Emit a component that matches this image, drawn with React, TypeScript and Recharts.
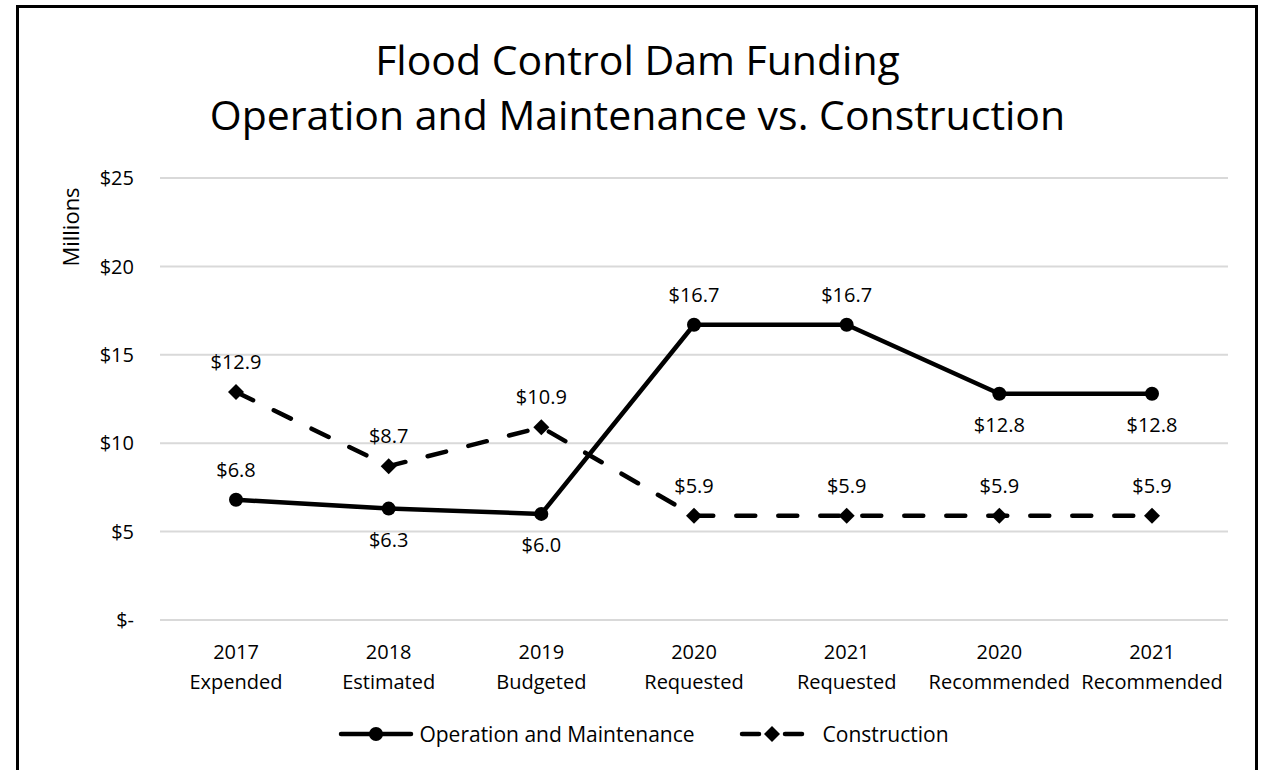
import React from "react";
import { LineChart, Line, XAxis, YAxis, CartesianGrid, LabelList, Legend } from "recharts";

const years = ["2017", "2018", "2019", "2020", "2021", "2020", "2021"];
const stages = ["Expended", "Estimated", "Budgeted", "Requested", "Requested", "Recommended", "Recommended"];
const operationMaintenance = [6.8, 6.3, 6.0, 16.7, 16.7, 12.8, 12.8];
const construction = [12.9, 8.7, 10.9, 5.9, 5.9, 5.9, 5.9];
// where each O&M data label sits relative to its point
const omLabelSide = ["above", "below", "below", "above", "above", "below", "below"];
const yTicks = [0, 5, 10, 15, 20, 25];

const FONT = "'Open Sans', 'Noto Sans', sans-serif";
const FS = 20;

const data = years.map((y, i) => ({
  key: i,
  year: y,
  stage: stages[i],
  om: operationMaintenance[i],
  con: construction[i],
}));

const fmt = (v: number) => (v === 0 ? "$-" : `$${v}`);

function CategoryTick(props: any) {
  const { x, y, payload } = props;
  const d = data[payload.value];
  return (
    <g>
      <text x={x} y={y + 31} textAnchor="middle" fontFamily={FONT} fontSize={FS} fill="#000">
        {d.year}
      </text>
      <text x={x} y={y + 61} textAnchor="middle" fontFamily={FONT} fontSize={FS} fill="#000">
        {d.stage}
      </text>
    </g>
  );
}

function makeLabel(sides: string[]) {
  return (props: any) => {
    const { x, y, value, index } = props;
    const below = sides[index] === "below";
    return (
      <text
        x={x}
        y={below ? y + 38 : y - 23}
        textAnchor="middle"
        fontFamily={FONT}
        fontSize={FS}
        fill="#000"
      >
        {`$${value.toFixed(1)}`}
      </text>
    );
  };
}

function Diamond(props: any) {
  const { cx, cy, index } = props;
  if (cx == null || cy == null) return <g key={`d-${index}`} />;
  const s = 8;
  return (
    <path
      key={`d-${index}`}
      d={`M${cx},${cy - s} L${cx + s},${cy} L${cx},${cy + s} L${cx - s},${cy} Z`}
      fill="#000"
    />
  );
}

function LegendContent() {
  return (
    <div
      style={{
        display: "flex",
        justifyContent: "center",
        alignItems: "center",
        fontFamily: FONT,
        fontSize: 21,
        paddingLeft: 24,
      }}
    >
      <svg width={76} height={20} style={{ marginRight: 5 }}>
        <line x1={3} y1={10} x2={73} y2={10} stroke="#000" strokeWidth={4.5} strokeLinecap="round" />
        <circle cx={38} cy={10} r={7} fill="#000" />
      </svg>
      <span>Operation and Maintenance</span>
      <svg width={66} height={20} style={{ marginLeft: 44, marginRight: 18 }}>
        <line x1={3} y1={10} x2={20} y2={10} stroke="#000" strokeWidth={4.5} strokeLinecap="round" />
        <line x1={46} y1={10} x2={63} y2={10} stroke="#000" strokeWidth={4.5} strokeLinecap="round" />
        <path d="M33,2 L41,10 L33,18 L25,10 Z" fill="#000" />
      </svg>
      <span>Construction</span>
    </div>
  );
}

export default function App() {
  return (
    <div
      style={{
        position: "absolute",
        left: 0,
        top: 0,
        width: 1263,
        height: 770,
        overflow: "hidden",
        background: "#fff",
      }}
    >
      <div
        style={{
          position: "absolute",
          left: 16,
          top: 5,
          width: 1242,
          height: 820,
          border: "3px solid #000",
          boxSizing: "border-box",
        }}
      />
      <div
        style={{
          position: "absolute",
          left: 0,
          top: 32,
          width: 1263,
          textAlign: "center",
          fontFamily: FONT,
          fontSize: 41,
          lineHeight: "55px",
          color: "#000",
        }}
      >
        <div style={{ marginLeft: 12 }}>Flood Control Dam Funding</div>
        <div style={{ marginLeft: 12 }}>Operation and Maintenance vs. Construction</div>
      </div>
      <div style={{ position: "absolute", left: 0, top: 0 }}>
        <LineChart
          width={1263}
          height={770}
          data={data}
          margin={{ top: 178, right: 35, left: 100, bottom: 70 }}
        >
          <CartesianGrid vertical={false} stroke="#d9d9d9" strokeWidth={2} />
          <XAxis
            dataKey="key"
            type="category"
            axisLine={false}
            tickLine={false}
            height={80}
            interval={0}
            padding={{ left: 76, right: 76 }}
            tick={<CategoryTick />}
          />
          <YAxis
            domain={[0, 25]}
            ticks={yTicks}
            width={60}
            axisLine={false}
            tickLine={false}
            tickMargin={20}
            tickFormatter={fmt}
            tick={{ fontFamily: FONT, fontSize: FS, fill: "#000" }}
            label={(p: any) => {
              const vb = p.viewBox;
              const lx = vb.x - 30;
              const ly = vb.y + 49;
              return (
                <text
                  x={lx}
                  y={ly}
                  transform={`rotate(-90, ${lx}, ${ly})`}
                  textAnchor="middle"
                  dominantBaseline="central"
                  fontFamily={FONT}
                  fontSize={22}
                  fill="#000"
                >
                  Millions
                </text>
              );
            }}
          />
          <Legend
            verticalAlign="middle"
            align="center"
            layout="horizontal"
            content={<LegendContent />}
            wrapperStyle={{ top: 720, left: 0, width: 1263 }}
          />
          <Line
            name="Operation and Maintenance"
            dataKey="om"
            stroke="#000"
            strokeWidth={4.5}
            strokeLinecap="round"
            strokeLinejoin="round"
            dot={{ r: 7, fill: "#000", stroke: "none" }}
            activeDot={false}
            isAnimationActive={false}
          >
            <LabelList dataKey="om" content={makeLabel(omLabelSide)} />
          </Line>
          <Line
            name="Construction"
            dataKey="con"
            stroke="#000"
            strokeWidth={4.5}
            strokeDasharray="19 23"
            strokeLinecap="round"
            strokeLinejoin="round"
            dot={<Diamond />}
            activeDot={false}
            isAnimationActive={false}
          >
            <LabelList dataKey="con" content={makeLabel(construction.map(() => "above"))} />
          </Line>
        </LineChart>
      </div>
    </div>
  );
}
